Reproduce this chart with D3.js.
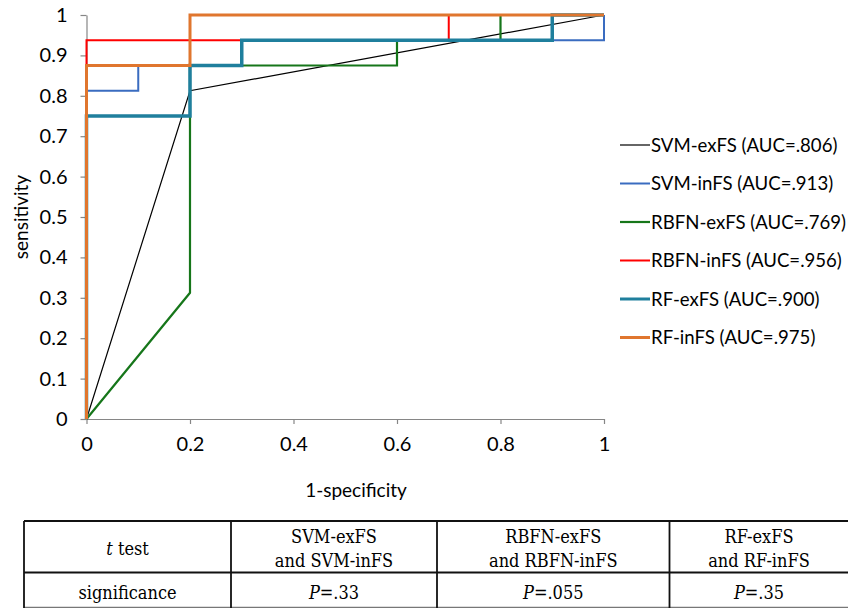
<!DOCTYPE html>
<html>
<head>
<meta charset="utf-8">
<script src="https://cdn.jsdelivr.net/npm/d3@7"></script>
<style>
  html, body { margin: 0; padding: 0; background: #fff; }
  svg { display: block; }
</style>
</head>
<body>
<svg id="chart" width="848" height="608"></svg>
<script>
// ---- data ----
const seriesNames = ["SVM-exFS (AUC=.806)", "SVM-inFS (AUC=.913)", "RBFN-exFS (AUC=.769)",
                     "RBFN-inFS (AUC=.956)", "RF-exFS (AUC=.900)", "RF-inFS (AUC=.975)"];
const svmExFS  = [[0,0],[0.2,0.8125],[1,1]];
const svmInFS  = [[0,0],[0,0.8125],[0.1,0.8125],[0.1,0.875],[0.3,0.875],[0.3,0.9375],[1,0.9375],[1,1]];
const rbfnExFS = [[0,0],[0.2,0.3125],[0.2,0.875],[0.6,0.875],[0.6,0.9375],[0.8,0.9375],[0.8,1],[1,1]];
const rbfnInFS = [[0,0],[0,0.9375],[0.7,0.9375],[0.7,1],[1,1]];
const rfExFS   = [[0,0],[0,0.75],[0.2,0.75],[0.2,0.875],[0.3,0.875],[0.3,0.9375],[0.9,0.9375],[0.9,1],[1,1]];
const rfInFS   = [[0,0],[0,0.875],[0.2,0.875],[0.2,1],[1,1]];
const xTicks = [0, 0.2, 0.4, 0.6, 0.8, 1];
const yTicks = [0, 0.1, 0.2, 0.3, 0.4, 0.5, 0.6, 0.7, 0.8, 0.9, 1];
const tableHeader = ["t test", "SVM-exFS|and SVM-inFS", "RBFN-exFS|and RBFN-inFS", "RF-exFS|and RF-inFS"];
const tableRow = ["significance", "P=.33", "P=.055", "P=.35"];

// ---- styles ----
const seriesData = [svmExFS, svmInFS, rbfnExFS, rbfnInFS, rfExFS, rfInFS];
const colors = ["#000000", "#3a6cc0", "#16761a", "#ff0000", "#1f7f9d", "#e0762e"];
const widths = [1.2, 2, 2.2, 2, 3.5, 3];

const svg = d3.select("#chart");
const chartFont = "Lato, 'Open Sans', sans-serif";
const serifFont = "'DejaVu Serif Condensed', 'Liberation Serif', serif";

const x = d3.scaleLinear().domain([0, 1]).range([86.5, 604]);
const y = d3.scaleLinear().domain([0, 1]).range([419, 15]);

// axes
const fmt = d => d === 0 || d === 1 ? String(d) : d3.format(".1f")(d);
const yAxis = svg.append("g").attr("transform", "translate(86.5,0)")
  .call(d3.axisLeft(y).tickValues(yTicks).tickSize(6).tickSizeOuter(0).tickPadding(13).tickFormat(fmt));
const xAxis = svg.append("g").attr("transform", "translate(0,419)")
  .call(d3.axisBottom(x).tickValues(xTicks).tickSize(5).tickSizeOuter(0).tickPadding(13).tickFormat(fmt));
[xAxis, yAxis].forEach(a => {
  a.select(".domain").attr("stroke", "#868686").attr("stroke-width", 1.2);
  a.selectAll(".tick line").attr("stroke", "#868686").attr("stroke-width", 1.2);
  a.selectAll(".tick text").attr("font-family", chartFont).attr("font-size", 20).attr("fill", "#000");
});

// lines
const line = d3.line().x(d => x(d[0])).y(d => y(d[1]));
svg.append("g").selectAll("path").data(seriesData).join("path")
  .attr("d", line)
  .attr("fill", "none")
  .attr("stroke", (d, i) => colors[i])
  .attr("stroke-width", (d, i) => widths[i])
  .attr("stroke-linejoin", "miter");

// axis titles
svg.append("text").attr("x", 356).attr("y", 497).attr("text-anchor", "middle")
  .attr("font-family", chartFont).attr("font-size", 19).text("1-specificity");
svg.append("text").attr("transform", "translate(28,217) rotate(-90)").attr("text-anchor", "middle")
  .attr("font-family", chartFont).attr("font-size", 19).text("sensitivity");

// legend
const legend = svg.append("g").selectAll("g").data(seriesNames).join("g")
  .attr("transform", (d, i) => `translate(620,${145 + i * 38.5})`);
legend.append("line").attr("x1", 0).attr("x2", 30).attr("y1", 0).attr("y2", 0)
  .attr("stroke", (d, i) => colors[i]).attr("stroke-width", (d, i) => Math.min(widths[i], 3));
legend.append("text").attr("x", 31).attr("y", 6.5).attr("font-family", chartFont)
  .attr("font-size", 18.6).text(d => d);

// table
const colX = [24, 231, 437, 669.5, 900];
const rowY = [521, 572.5, 607.5];
const tbl = svg.append("g");
tbl.append("line").attr("x1", colX[0]).attr("x2", 848).attr("y1", rowY[0]).attr("y2", rowY[0])
  .attr("stroke", "#111").attr("stroke-width", 1.8);
tbl.append("line").attr("x1", colX[0]).attr("x2", 848).attr("y1", rowY[1]).attr("y2", rowY[1])
  .attr("stroke", "#111").attr("stroke-width", 1.8);
tbl.append("line").attr("x1", colX[0]).attr("x2", 848).attr("y1", rowY[2]).attr("y2", rowY[2])
  .attr("stroke", "#777").attr("stroke-width", 1.5);
colX.slice(0, 4).forEach(cx => {
  tbl.append("line").attr("x1", cx).attr("x2", cx).attr("y1", rowY[0]).attr("y2", 608)
    .attr("stroke", "#111").attr("stroke-width", 1.8);
});
const cellCenter = i => i === 3 ? 759 : (colX[i] + colX[i + 1]) / 2;
const tFont = 18;
tableHeader.forEach((t, i) => {
  const cx = cellCenter(i);
  const parts = t.split("|");
  if (i === 0) {
    const tx = tbl.append("text").attr("x", cx).attr("y", 555).attr("text-anchor", "middle")
      .attr("font-family", serifFont).attr("font-size", tFont);
    tx.append("tspan").attr("font-style", "italic").text("t");
    tx.append("tspan").text(" test");
  } else {
    parts.forEach((p, j) => {
      tbl.append("text").attr("x", cx).attr("y", 543 + j * 24).attr("text-anchor", "middle")
        .attr("font-family", serifFont).attr("font-size", tFont).text(p);
    });
  }
});
tableRow.forEach((t, i) => {
  const cx = cellCenter(i);
  const tx = tbl.append("text").attr("x", cx).attr("y", 599).attr("text-anchor", "middle")
    .attr("font-family", serifFont).attr("font-size", tFont);
  if (t.startsWith("P")) {
    tx.append("tspan").attr("font-style", "italic").text("P");
    tx.append("tspan").text(t.slice(1));
  } else {
    tx.text(t);
  }
});
</script>
</body>
</html>
